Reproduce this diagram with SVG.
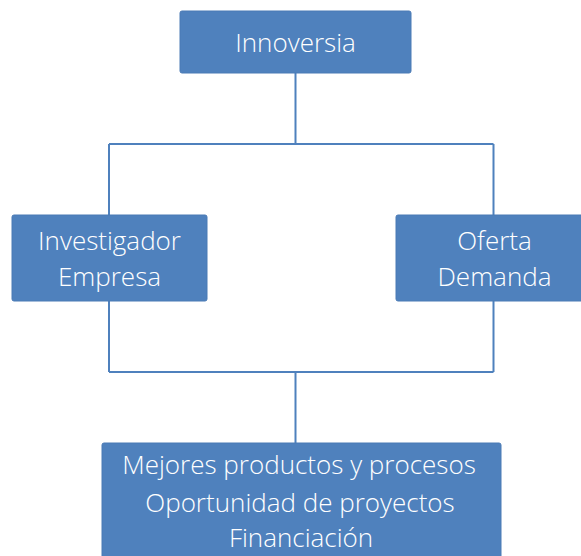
<svg xmlns="http://www.w3.org/2000/svg" width="581" height="556" viewBox="0 0 581 556">
<style>
.box{fill:#4F81BD;stroke:#4A7AB5;stroke-width:1}
.t{font-family:"Open Sans","Noto Sans","Liberation Sans",sans-serif;font-weight:300;fill:#FFFFFF;text-anchor:middle;font-size:26px}
.c{fill:none;stroke:#4F81BD;stroke-width:2}
</style>
<rect width="581" height="556" fill="#FFFFFF"/>
<g id="connectors">
<path class="c" d="M295.5 73V144M109 144H493.5M109 144V215M493.5 144V215M109 301V372M493.5 301V372M109 372H493.5M295.5 372V443"/>
</g>
<g id="innoversia">
<rect class="box" x="180" y="11" width="231" height="62" rx="2"/>
<text class="t" x="295.5" y="52">Innoversia</text>
</g>
<g id="investigador">
<rect class="box" x="12" y="215" width="195" height="86" rx="2"/>
<text class="t" x="109.5" y="250">Investigador</text>
<text class="t" x="109.5" y="286">Empresa</text>
</g>
<g id="oferta">
<rect class="box" x="396" y="215" width="197" height="86" rx="2"/>
<text class="t" x="494.5" y="250">Oferta</text>
<text class="t" x="494.5" y="286">Demanda</text>
</g>
<g id="resultados">
<rect class="box" x="102" y="443" width="399" height="120" rx="2"/>
<text class="t" x="299" y="474">Mejores productos y procesos</text>
<text class="t" x="300" y="512">Oportunidad de proyectos</text>
<text class="t" x="301" y="547">Financiación</text>
</g>
</svg>
